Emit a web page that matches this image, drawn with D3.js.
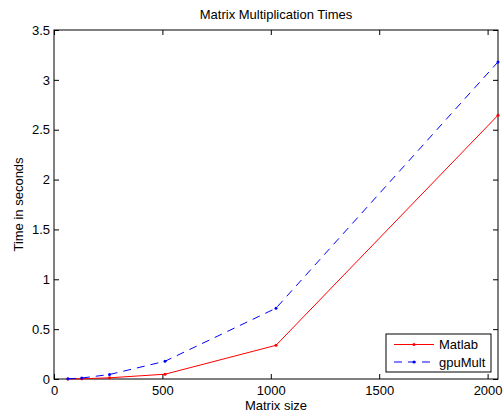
<!DOCTYPE html>
<html>
<head>
<meta charset="utf-8">
<script src="https://cdn.jsdelivr.net/npm/d3@7"></script>
<style>
  body { margin: 0; background: #fff; }
  svg { font-family: "Liberation Sans", Arial, sans-serif; }
</style>
</head>
<body>
<svg width="504" height="416"></svg>
<script>
// matrix sizes and timings (seconds)
const sizes = [64, 128, 256, 512, 1024, 2048]
const matlabTimes = [0.0005, 0.002, 0.012, 0.048, 0.338, 2.645]
const gpuTimes = [0.002, 0.01, 0.045, 0.178, 0.71, 3.18]
const xTicks = [0, 500, 1000, 1500, 2000]
const yTicks = [0, 0.5, 1, 1.5, 2, 2.5, 3, 3.5]

let svg = d3.select('svg')
let margin = { top: 30, right: 6, bottom: 37, left: 54 }
let width = +svg.attr('width') - margin.left - margin.right
let height = +svg.attr('height') - margin.top - margin.bottom
let fontSize = '13px'

let g = svg.append('g')
  .attr('transform', 'translate(' + margin.left + ',' + margin.top + ')')

let x = d3.scaleLinear().domain([0, 2048]).range([0, width])
let y = d3.scaleLinear().domain([0, 3.5]).range([height, 0])

// axes with inward ticks on all four sides
let axisStyle = function (sel) {
  sel.select('.domain').remove()
  sel.selectAll('line').attr('stroke', '#000')
  sel.selectAll('text').attr('fill', '#000').style('font-size', fontSize)
}

g.append('g')
  .attr('transform', 'translate(0,' + height + ')')
  .call(d3.axisBottom(x).tickValues(xTicks).tickSize(-5).tickPadding(7).tickFormat(d3.format('d')))
  .call(axisStyle)
g.append('g')
  .call(d3.axisTop(x).tickValues(xTicks).tickSize(-5).tickFormat(''))
  .call(axisStyle)
g.append('g')
  .call(d3.axisLeft(y).tickValues(yTicks).tickSize(-5).tickPadding(4).tickFormat(d3.format('~g')))
  .call(axisStyle)
g.append('g')
  .attr('transform', 'translate(' + width + ',0)')
  .call(d3.axisRight(y).tickValues(yTicks).tickSize(-5).tickFormat(''))
  .call(axisStyle)

g.append('rect')
  .attr('width', width)
  .attr('height', height)
  .attr('fill', 'none')
  .attr('stroke', '#000')

let line = d3.line()
  .x(function (d) { return x(d[0]) })
  .y(function (d) { return y(d[1]) })

let series = [
  { name: 'Matlab', values: matlabTimes, color: '#ff0000', dash: null },
  { name: 'gpuMult', values: gpuTimes, color: '#0000ff', dash: '8,6' }
]

series.forEach(function (s) {
  let pts = sizes.map(function (v, i) { return [v, s.values[i]] })
  g.append('path')
    .datum(pts)
    .attr('fill', 'none')
    .attr('stroke', s.color)
    .attr('stroke-width', 1)
    .attr('stroke-dasharray', s.dash)
    .attr('d', line)
  g.selectAll(null)
    .data(pts)
    .enter()
    .append('circle')
    .attr('cx', function (d) { return x(d[0]) })
    .attr('cy', function (d) { return y(d[1]) })
    .attr('r', 1.5)
    .attr('fill', s.color)
})

// title and labels
svg.append('text')
  .attr('x', margin.left + width / 2)
  .attr('y', 19)
  .attr('text-anchor', 'middle')
  .style('font-size', fontSize)
  .text('Matrix Multiplication Times')

svg.append('text')
  .attr('x', margin.left + width / 2)
  .attr('y', 410)
  .attr('text-anchor', 'middle')
  .style('font-size', fontSize)
  .text('Matrix size')

svg.append('text')
  .attr('transform', 'translate(22.5,' + (margin.top + height / 2) + ') rotate(-90)')
  .attr('text-anchor', 'middle')
  .style('font-size', fontSize)
  .text('Time in seconds')

// legend
let legend = svg.append('g').attr('transform', 'translate(386,334)')
legend.append('rect')
  .attr('width', 105)
  .attr('height', 38)
  .attr('fill', '#fff')
  .attr('stroke', '#000')
series.forEach(function (s, i) {
  let ly = 10.5 + i * 17.5
  legend.append('line')
    .attr('x1', 8).attr('x2', 48)
    .attr('y1', ly).attr('y2', ly)
    .attr('stroke', s.color)
    .attr('stroke-dasharray', s.dash)
  legend.append('circle')
    .attr('cx', 28).attr('cy', ly).attr('r', 1.5)
    .attr('fill', s.color)
  legend.append('text')
    .attr('x', 53).attr('y', ly + 4.5)
    .style('font-size', fontSize)
    .text(s.name)
})
</script>
</body>
</html>
